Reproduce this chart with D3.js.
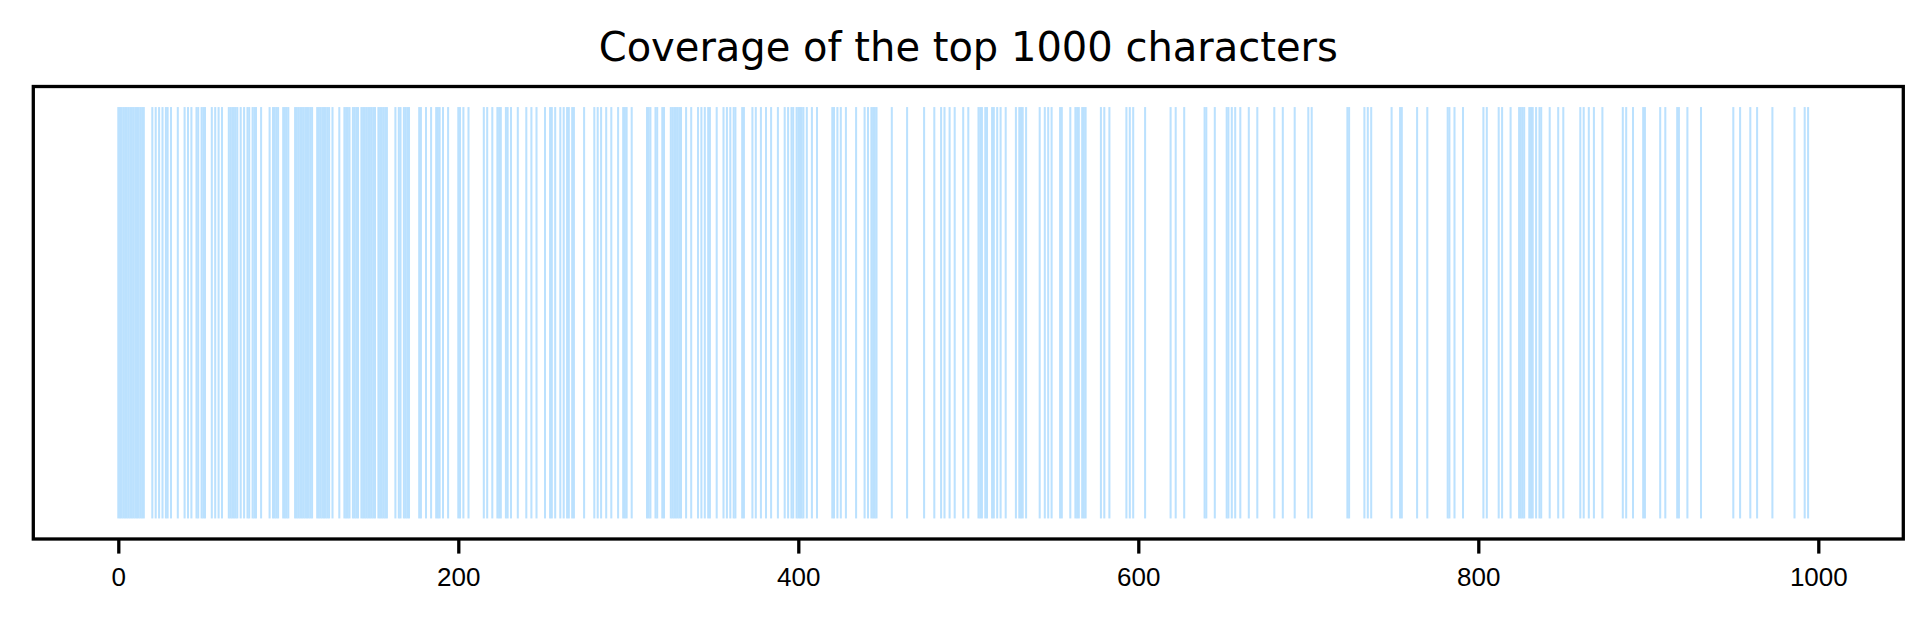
<!DOCTYPE html>
<html>
<head>
<meta charset="utf-8">
<script src="https://cdn.jsdelivr.net/npm/d3@7"></script>
<style>
    body { margin: 0; background: #ffffff; }
</style>
</head>
<body>
<div id="container"></div>
<script>
//chart title
var titleText = "Coverage of the top 1000 characters";

//x axis ticks
var tickValues = [0, 200, 400, 600, 800, 1000];

//rank of every character (out of the top 1000) that is covered
var covered0 = [0, 1, 2, 3, 4, 5, 6, 7, 8, 9, 10, 11, 12, 13, 14, 15, 20, 22, 24, 26, 28, 29, 31, 35, 39, 41, 43,
    46, 47, 49, 50, 51, 55, 57, 59, 61, 65, 66, 67, 68, 69, 70, 72, 74, 76, 77, 79, 80, 81, 84, 89, 91, 92, 93, 94,
    97, 98, 99, 100, 104, 105, 106, 107, 108, 109, 110, 111, 112, 113, 114, 117, 118, 119, 120, 121, 122, 123, 124];
var covered1 = [126, 130, 133, 134, 135, 136, 138, 139, 140, 141, 143, 144, 145, 146, 147, 148, 149, 150, 151,
    153, 154, 155, 156, 157, 158, 163, 165, 166, 168, 169, 170, 171, 177, 178, 181, 184, 187, 188, 189, 191, 194,
    200, 201, 203, 206, 215, 217, 220, 223, 224, 225, 228, 229, 231, 235, 240, 243, 246];
var covered2 = [251, 254, 255, 257, 260, 262, 264, 265, 267, 268, 274, 280, 282, 284, 287, 290, 294, 297, 298, 299,
    302, 311, 312, 313, 316, 317, 320, 321, 325, 326, 327, 328, 329, 330, 331, 334, 337, 341, 343, 345, 347, 348,
    352, 356, 358, 360, 362, 363, 367, 368];
var covered3 = [373, 375, 378, 381, 384, 388, 392, 394, 396, 397, 399, 400, 401, 402, 403, 405, 408, 411, 420, 421,
    423, 425, 428, 434, 439, 441, 443, 444, 445, 446, 455, 464, 474, 480, 484, 486, 489, 492];
var covered4 = [497, 500, 506, 507, 508, 510, 511, 514, 515, 517, 519, 522, 528, 530, 531, 532, 534, 542, 545, 547,
    549, 554, 555, 560, 563, 564, 565, 567, 568, 569, 578, 580, 583, 593, 595, 597, 604, 619, 622];
var covered5 = [627, 639, 640, 645, 652, 653, 655, 657, 660, 665, 670, 680, 685, 692, 700, 702, 723, 724, 733, 735,
    737, 749];
var covered6 = [754, 755, 764, 770, 782, 783, 786, 791, 803, 805, 812, 814, 819, 824, 825, 826, 827, 830, 831, 832,
    834, 836, 837, 842, 847, 850, 860, 862, 865, 868, 873];
var covered7 = [885, 887, 891, 897, 898, 907, 910, 917, 918, 923, 931, 950, 954, 960, 964, 973, 986, 992, 994];

var covered = covered0.concat(covered1, covered2, covered3, covered4, covered5, covered6, covered7);

// width and height
var width = 1926;
var height = 631;

var frameLeft = 33.3, frameRight = 1903.3, frameTop = 86.5, frameBottom = 539;

//scales (matplotlib style 5% margins)
var x = d3.scaleLinear()
    .domain([-50, 1050])
    .range([frameLeft, frameRight]);

var y = d3.scaleLinear()
    .domain([-0.05, 1.05])
    .range([frameBottom, frameTop]);

//Create SVG
var svg = d3.select("#container")
    .append("svg")
    .attr("width", width)
    .attr("height", height)
    .style("font-family", "'DejaVu Sans', sans-serif");

svg.append("rect")
    .attr("width", width)
    .attr("height", height)
    .attr("fill", "#ffffff");

//one thin bar per covered character
svg.append("g")
    .selectAll("rect")
    .data(covered)
    .enter()
    .append("rect")
    .attr("x", d => x(d - 0.6))
    .attr("width", d => x(d + 0.6) - x(d - 0.6))
    .attr("y", y(1))
    .attr("height", y(0) - y(1))
    .attr("fill", "#bbe1fe");

//x axis
var xAxis = svg.append("g")
    .attr("transform", "translate(0," + frameBottom + ")")
    .call(d3.axisBottom(x)
        .tickValues(tickValues)
        .tickFormat(d3.format("d"))
        .tickSize(14.6)
        .tickPadding(14.4));

xAxis.select(".domain").remove();
xAxis.selectAll(".tick line")
    .attr("stroke", "#000000")
    .attr("stroke-width", 3.3);
xAxis.selectAll(".tick text")
    .attr("fill", "#000000")
    .style("font-size", "26px");

//frame
svg.append("rect")
    .attr("x", frameLeft)
    .attr("y", frameTop)
    .attr("width", frameRight - frameLeft)
    .attr("height", frameBottom - frameTop)
    .attr("fill", "none")
    .attr("stroke", "#000000")
    .attr("stroke-width", 3.3);

//title
svg.append("text")
    .attr("x", (frameLeft + frameRight) / 2)
    .attr("y", 61)
    .attr("text-anchor", "middle")
    .style("font-size", "40px")
    .attr("fill", "#000000")
    .text(titleText);
</script>
</body>
</html>
